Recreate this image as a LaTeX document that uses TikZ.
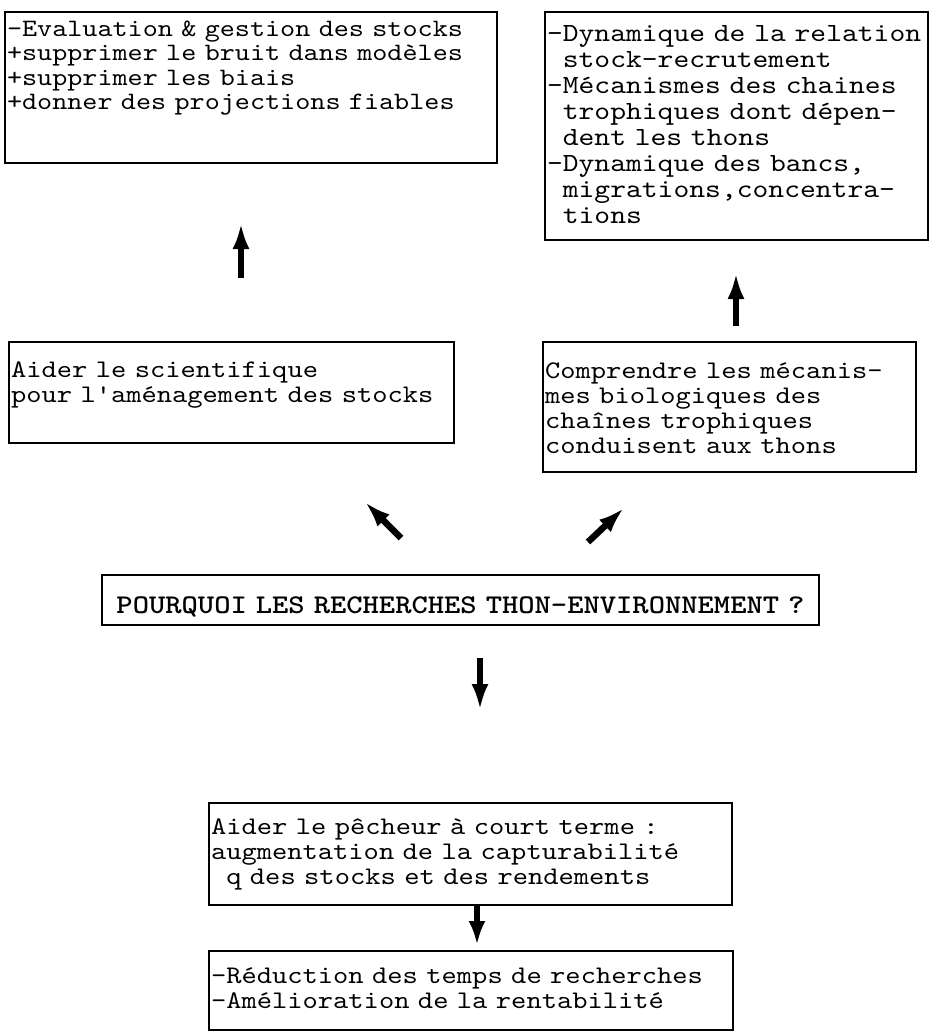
\documentclass[tikz,border=0pt]{standalone}
\usepackage{fontspec}
\setmonofont{lmmono10-regular.otf}[FakeStretch=1.15, BoldFont=lmmonolt10-bold.otf]
\usepackage{tikz}
\usetikzlibrary{positioning}
\usetikzlibrary{arrows.meta}

\begin{document}
\begin{tikzpicture}[x=1pt, y=-1pt,
textbox/.style={rectangle, draw=black, line width=1.6pt, anchor=north west, align=left, inner xsep=2pt, inner ysep=0pt, outer sep=0pt, font=\ttfamily\fontsize{25.3}{25}\selectfont},
titlebox/.style={textbox, align=center, font=\ttfamily\bfseries\fontsize{27}{27}\selectfont},
bigarrow/.style={-{Latex[length=26pt, width=17pt]}, line width=6.5pt},
]
\useasboundingbox (0,0) rectangle (930,1034);

%Nodes
\node[textbox, text width=488pt, text height=24pt, text depth=127pt, font=\ttfamily\fontsize{25}{24.5}\selectfont] (eval) at (5,12) {-Evaluation \& gestion des stocks\\+supprimer le bruit dans modèles\\+supprimer les biais\\+donner des projections fiables};
\node[textbox, text width=379pt, text height=29pt, text depth=199pt, font=\ttfamily\fontsize{26.2}{26}\selectfont] (dyn) at (545,12) {-Dynamique de la relation\\\phantom{-}stock-recrutement\\-Mécanismes des chaines\\\phantom{-}trophiques dont dépen-\\\phantom{-}dent les thons\\-Dynamique des bancs,\\\phantom{-}migrations,concentra-\\\phantom{-}tions};
\node[textbox, text width=441pt, text height=35pt, text depth=66pt] (sci) at (9,342) {Aider le scientifique\\pour l'aménagement des stocks};
\node[textbox, text width=369pt, text height=36pt, text depth=94pt] (bio) at (543,342) {Comprendre les mécanis-\\mes biologiques des\\chaînes trophiques\\conduisent aux thons};
\node[titlebox, text width=713pt, text height=38pt, text depth=12pt] (why) at (102,575) {POURQUOI LES RECHERCHES THON-ENVIRONNEMENT ?};
\node[textbox, text width=519pt, text height=31pt, text depth=71pt] (fish) at (209,803) {Aider le pêcheur à court terme :\\augmentation de la capturabilité\\\phantom{-}q des stocks et des rendements};
\node[textbox, text width=520pt, text height=32pt, text depth=47pt] (gain) at (209,951) {-Réduction des temps de recherches\\-Amélioration de la rentabilité};

%Arrow ends
\coordinate (evalfoot) at (241,278);
\coordinate (evalhead) at (241,223);
\coordinate (dynfoot) at (736,326);
\coordinate (dynhead) at (736,273);
\coordinate (scifoot) at (401,538);
\coordinate (scihead) at (365,502);
\coordinate (biofoot) at (588,542);
\coordinate (biohead) at (624,508);
\coordinate (whyfoot) at (480,658);
\coordinate (whyhead) at (480,710);
\coordinate (fishfoot) at (477,905);
\coordinate (fishhead) at (477,945);

%Lines
\draw[bigarrow] (evalfoot) -- (evalhead);
\draw[bigarrow] (dynfoot) -- (dynhead);
\draw[bigarrow] (scifoot) -- (scihead);
\draw[bigarrow] (biofoot) -- (biohead);
\draw[bigarrow] (whyfoot) -- (whyhead);
\draw[bigarrow, -{Latex[length=24pt, width=17pt]}] (fishfoot) -- (fishhead);
\end{tikzpicture}
\end{document}
